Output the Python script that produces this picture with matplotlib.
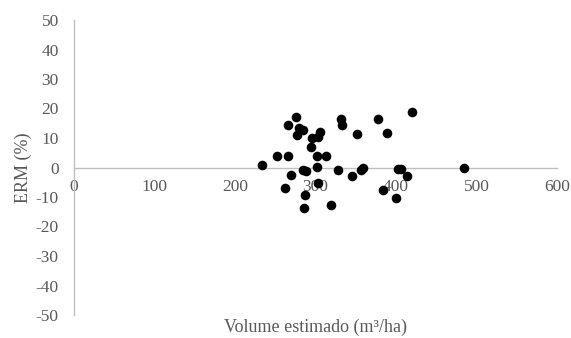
import matplotlib
matplotlib.use("Agg")
import matplotlib.pyplot as plt

volume = [275.8, 265.5, 279.9, 284.8, 277.4, 305.6, 303.5, 296.0, 294.4, 252.5,
          266.2, 302.2, 312.7, 233.2, 301.5, 284.1, 288.2, 269.2, 303.5, 262.1,
          287.0, 285.7, 319.3, 328.3, 331.3, 332.5, 377.3, 419.9, 351.9, 389.2,
          345.0, 356.5, 359.4, 402.9, 406.2, 413.3, 384.2, 399.6, 484.8]
erm = [17.2, 14.3, 13.4, 12.6, 11.0, 12.1, 10.4, 10.0, 6.8, 3.9,
       3.8, 3.8, 3.8, 0.8, 0.2, -0.9, -1.3, -2.5, -5.3, -6.8,
       -9.2, -13.7, -12.8, -1.0, 16.4, 14.3, 16.4, 18.8, 11.3, 11.6,
       -2.9, -1.0, -0.1, -0.6, -0.6, -2.9, -7.7, -10.5, -0.3]
xticks = [0, 100, 200, 300, 400, 500, 600]
yticks = [-50, -40, -30, -20, -10, 0, 10, 20, 30, 40, 50]

plt.rcParams['font.family'] = ['Liberation Serif', 'DejaVu Serif']
plt.rcParams['axes.unicode_minus'] = False
grey = '#595959'
axcol = '#bfbfbf'

fig = plt.figure(figsize=(5.71, 3.38), dpi=100)
ax = fig.add_axes([74/571, 1-315/338, (557-74)/571, (315-20)/338])
ax.scatter(volume, erm, s=48, color='black', zorder=3, linewidths=0)
ax.set_xlim(0, 600)
ax.set_ylim(-50, 50)
ax.set_xticks(xticks)
ax.set_yticks(yticks)
ax.spines['top'].set_visible(False)
ax.spines['right'].set_visible(False)
ax.spines['bottom'].set_position(('data', 0))
for s in ['left', 'bottom']:
    ax.spines[s].set_color(axcol)
    ax.spines[s].set_linewidth(1.0)
ax.tick_params(axis='both', length=0, labelsize=12.5, labelcolor=grey)
ax.tick_params(axis='y', pad=11)
ax.tick_params(axis='x', pad=8)
ax.set_ylabel('ERM (%)', fontsize=13, color=grey)
ax.yaxis.set_label_coords(-42/483, 0.5)
ax.set_xlabel('Volume estimado (m³/ha)', fontsize=13, color=grey)
ax.xaxis.set_label_coords(0.5, -4/295)
fig.savefig('out.png', dpi=100)
